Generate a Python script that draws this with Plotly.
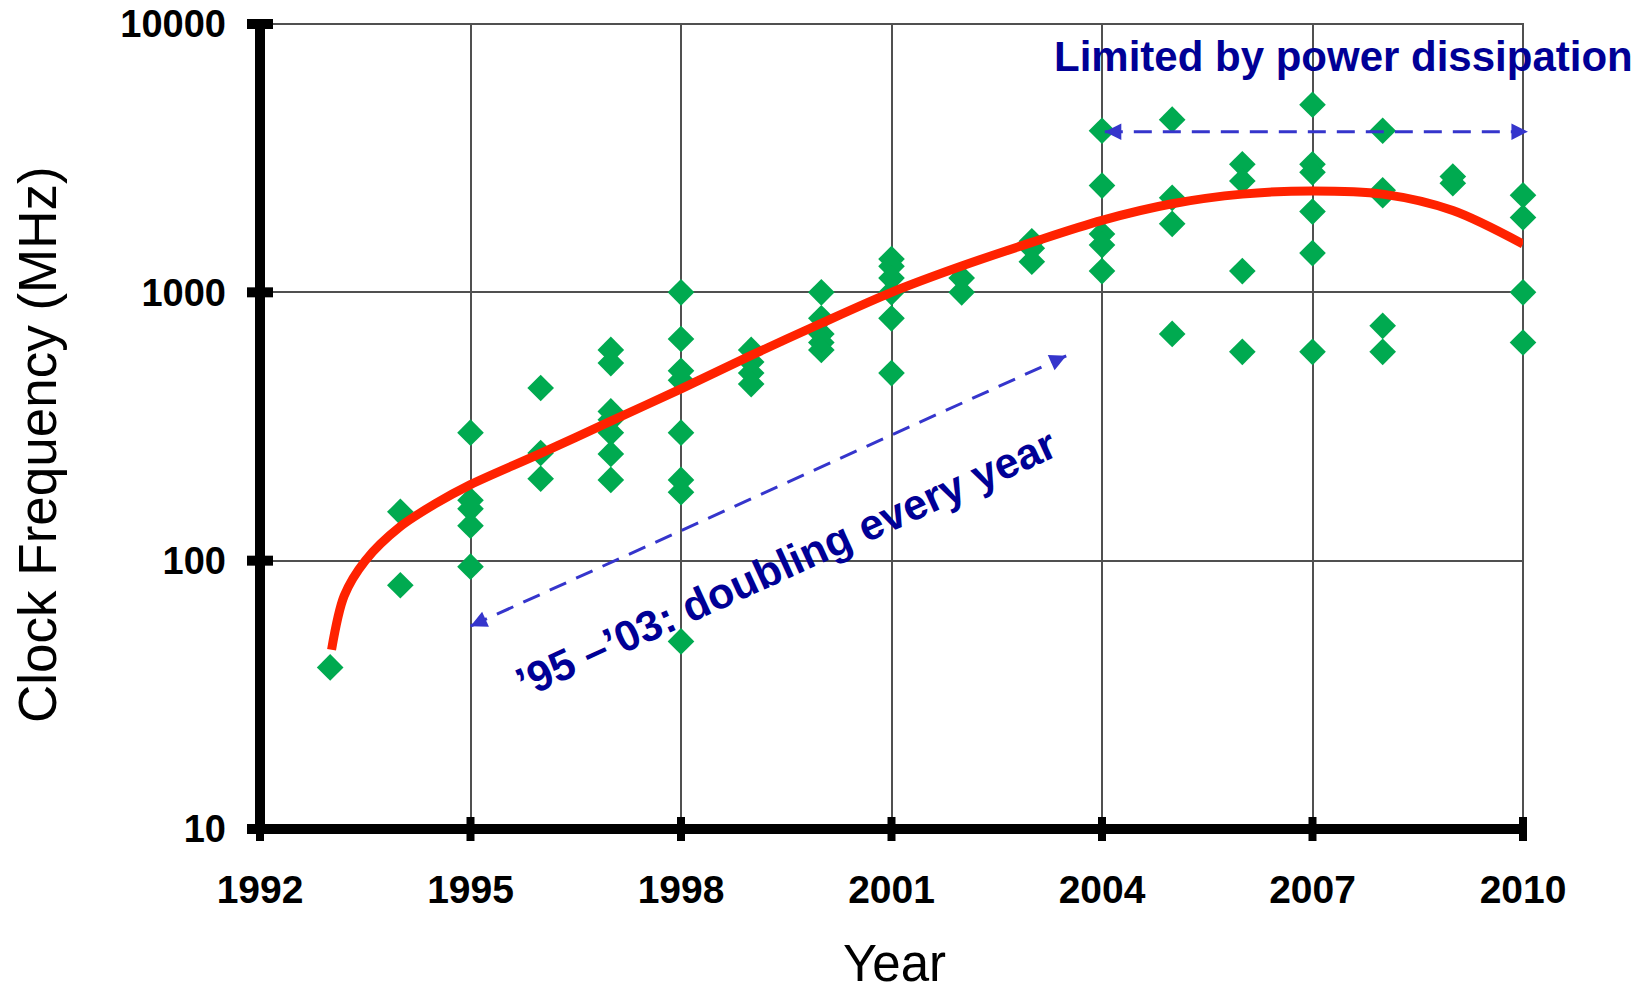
import math
import plotly.graph_objects as go

# ---------------- data ----------------
years = ([1993] + [1994] * 2 + [1995] * 5 + [1996] * 3 + [1997] * 7 + [1998] * 8 +
         [1999] * 4 + [2000] * 5 + [2001] * 6 + [2002] * 2 + [2003] * 3 + [2004] * 5 +
         [2005] * 4 + [2006] * 4 + [2007] * 6 + [2008] * 5 + [2009] * 2 + [2010] * 4)
freq_mhz = [40,
            152, 81,
            300, 168, 156, 135, 95,
            440, 252, 202,
            610, 545, 360, 335, 300, 250, 200,
            1000, 670, 510, 470, 300, 200, 180, 50,
            610, 550, 500, 455,
            1000, 800, 700, 650, 610,
            1330, 1250, 1130, 1000, 800, 500,
            1130, 1000,
            1550, 1460, 1300,
            4000, 2500, 1650, 1500, 1200,
            4400, 2250, 1800, 700,
            3000, 2600, 1200, 600,
            5000, 3000, 2800, 2000, 1400, 600,
            4000, 2400, 2300, 750, 600,
            2700, 2550,
            2300, 1900, 1000, 650]

trend_years = [1993.02, 1993.2, 1993.5, 1994, 1994.5, 1995, 1996,
               1997, 1998, 1999, 2000, 2001, 2002, 2003, 2004, 2005, 2006, 2007, 2008,
               2009, 2010]
trend_mhz = [46.6, 74, 100, 134, 163, 192, 251, 331, 437, 582, 767, 1000, 1253,
             1535, 1855, 2138, 2323, 2388, 2323, 2018, 1514]

x_ticks = [1992, 1995, 1998, 2001, 2004, 2007, 2010]
x_labels = ["1992", "1995", "1998", "2001", "2004", "2007", "2010"]
y_ticks = [10, 100, 1000, 10000]
y_labels = ["10", "100", "1000", "10000"]

arrow_diag_x = [1995.0, 2003.49]
arrow_diag_y = [57, 580]
arrow_horiz_x = [2004.04, 2010.07]
arrow_horiz_y = [3970, 3970]

label_power = "Limited by power dissipation"
label_doubling = "\u201995 \u2013\u201903: doubling every year"

# ---------------- layout geometry ----------------
W, H = 1650, 993
ML, MR, MT, MB = 260, 127, 24, 164
PW, PH = W - ML - MR, H - MT - MB
X0, X1 = 1992, 2010
Y0, Y1 = 1, 4  # log10 range

FONT = "Liberation Sans, Arial, sans-serif"
NAVY = "#000096"
ABLUE = "#3535CC"
GRID = "#505050"


def px_x(v):
    return (v - X0) / (X1 - X0)


def py_y(v):
    return (math.log10(v) - Y0) / (Y1 - Y0)


fig = go.Figure()

fig.add_trace(go.Scatter(
    x=years, y=freq_mhz, mode="markers",
    marker=dict(symbol="diamond", size=20.5, color="#00AA50", line=dict(width=0)),
    cliponaxis=False, showlegend=False))

fig.add_trace(go.Scatter(
    x=trend_years, y=trend_mhz, mode="lines",
    line=dict(color="#FF2200", width=9, shape="spline", smoothing=0.9),
    cliponaxis=False, showlegend=False))

for ax_, ay_ in [(arrow_diag_x, arrow_diag_y), (arrow_horiz_x, arrow_horiz_y)]:
    fig.add_trace(go.Scatter(
        x=ax_, y=ay_, mode="lines",
        line=dict(color=ABLUE, width=3, dash="18px,11px"),
        cliponaxis=False, showlegend=False))

shapes = []
# plot border (top / right)
shapes.append(dict(type="rect", xref="paper", yref="paper", x0=0, x1=1, y0=0, y1=1,
                   line=dict(color=GRID, width=2), layer="below"))
# thick axis lines
shapes.append(dict(type="line", xref="paper", yref="paper", x0=0, x1=0, y0=0, y1=1,
                   line=dict(color="black", width=10)))
shapes.append(dict(type="line", xref="paper", yref="paper", x0=-6 / PW, x1=1, y0=0, y1=0,
                   line=dict(color="black", width=10)))
# cross ticks
for v in y_ticks:
    shapes.append(dict(type="line", xref="paper", yref="paper",
                       x0=-13 / PW, x1=13 / PW, y0=py_y(v), y1=py_y(v),
                       line=dict(color="black", width=10)))
for v in x_ticks:
    shapes.append(dict(type="line", xref="paper", yref="paper",
                       x0=px_x(v), x1=px_x(v), y0=-12 / PH, y1=12 / PH,
                       line=dict(color="black", width=8)))

annotations = []


def arrowhead(xv, yv, toward_x, toward_y):
    # tail offset (pixels) pointing from tip toward the other end of the line
    dx = (px_x(toward_x) - px_x(xv)) * PW
    dy = -(py_y(toward_y) - py_y(yv)) * PH
    n = math.hypot(dx, dy)
    L = 16
    return dict(xref="paper", yref="paper", x=px_x(xv), y=py_y(yv), text="",
                showarrow=True, arrowhead=2, arrowsize=1.1, arrowwidth=3,
                arrowcolor=ABLUE, standoff=0, ax=dx / n * L, ay=dy / n * L)


annotations.append(arrowhead(arrow_diag_x[0], arrow_diag_y[0], arrow_diag_x[1], arrow_diag_y[1]))
annotations.append(arrowhead(arrow_diag_x[1], arrow_diag_y[1], arrow_diag_x[0], arrow_diag_y[0]))
annotations.append(arrowhead(arrow_horiz_x[0], arrow_horiz_y[0], arrow_horiz_x[1], arrow_horiz_y[1]))
annotations.append(arrowhead(arrow_horiz_x[1], arrow_horiz_y[1], arrow_horiz_x[0], arrow_horiz_y[0]))

annotations.append(dict(xref="paper", yref="paper", x=(1052 - ML) / PW, y=1 - (56 - MT) / PH,
                        xanchor="left", yanchor="middle", showarrow=False, text=label_power,
                        font=dict(family=FONT, size=42, color=NAVY, weight="bold")))
annotations.append(dict(xref="x", yref="y", x=1999.5, y=math.log10(98),
                        xanchor="center", yanchor="middle", showarrow=False, textangle=-24.5,
                        text=label_doubling,
                        font=dict(family=FONT, size=43, color=NAVY, weight="bold")))
# axis titles
annotations.append(dict(xref="paper", yref="paper", x=(37 - ML) / PW, y=1 - (445 - MT) / PH,
                        xanchor="center", yanchor="middle", showarrow=False, textangle=-90,
                        text="Clock Frequency (MHz)",
                        font=dict(family=FONT, size=53, color="black")))
annotations.append(dict(xref="paper", yref="paper", x=(894 - ML) / PW, y=1 - (963 - MT) / PH,
                        xanchor="center", yanchor="middle", showarrow=False,
                        text="Year", font=dict(family=FONT, size=51, color="black")))

fig.update_layout(
    width=W, height=H, margin=dict(l=ML, r=MR, t=MT, b=MB, autoexpand=False),
    paper_bgcolor="white", plot_bgcolor="white",
    shapes=shapes, annotations=annotations, showlegend=False,
    xaxis=dict(range=[X0, X1], tickvals=x_ticks, ticktext=x_labels, showgrid=True,
               gridcolor=GRID, gridwidth=2, showline=False, zeroline=False, ticks="",
               ticklabelstandoff=34, automargin=False,
               tickfont=dict(family=FONT, size=39, color="black", weight="bold")),
    yaxis=dict(type="log", range=[Y0, Y1], tickvals=y_ticks, ticktext=y_labels,
               showgrid=True, gridcolor=GRID, gridwidth=2, showline=False, zeroline=False,
               ticks="", ticklabelstandoff=33, automargin=False,
               tickfont=dict(family=FONT, size=38, color="black", weight="bold")),
)

fig.write_html("out.html", config={"displayModeBar": False},
               post_script="document.body.style.margin='0';document.body.style.overflow='hidden';")
